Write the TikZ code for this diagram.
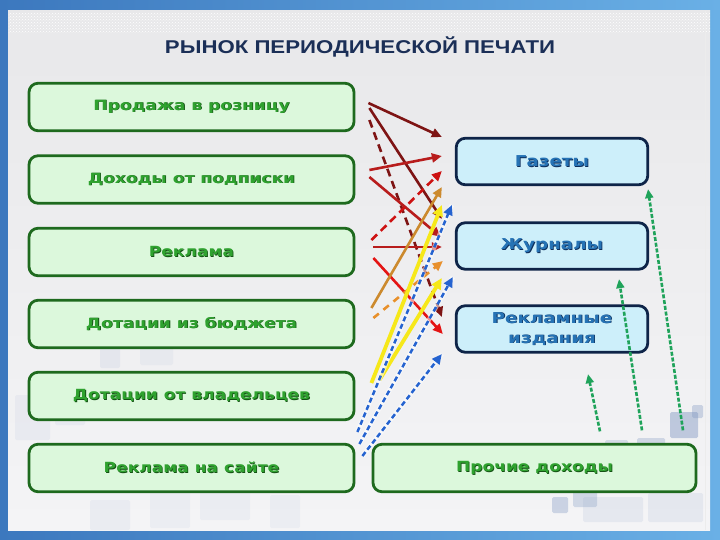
\documentclass[tikz,border=0pt]{standalone}
\usepackage{fontspec}
\setmainfont{Liberation Sans}
\newfontfamily\titlefont[FakeStretch=1.2]{Liberation Sans}
\newfontfamily\boxfont[FakeStretch=1.22]{DejaVu Sans}
\usetikzlibrary{arrows.meta,calc,patterns}
\definecolor{frameA}{HTML}{3C78BE}
\definecolor{frameB}{HTML}{6AB0E6}
\definecolor{panelA}{HTML}{E8E8EA}
\definecolor{panelB}{HTML}{F4F4F6}
\definecolor{titlec}{HTML}{1B2F57}
\definecolor{gfill}{HTML}{DCF8DC}
\definecolor{gline}{HTML}{1E6A1E}
\definecolor{gtext}{HTML}{2FA22F}
\definecolor{gshade}{HTML}{145214}
\definecolor{bfill}{HTML}{CDEFFA}
\definecolor{bline}{HTML}{0E2448}
\definecolor{btext}{HTML}{2673B5}
\definecolor{bshade}{HTML}{0E2E5A}
\definecolor{cmaroon}{HTML}{7E1414}
\definecolor{cred}{HTML}{B81C1C}
\definecolor{cbright}{HTML}{E41414}
\definecolor{corange}{HTML}{CC8A2E}
\definecolor{corange2}{HTML}{E8902C}
\definecolor{cyellow}{HTML}{F6E81A}
\definecolor{cblue}{HTML}{2563D0}
\definecolor{cgreen}{HTML}{1FA35A}
\definecolor{sq}{HTML}{7F97C2}
\newcommand\shtxt[3]{\rlap{\kern0.8pt\raisebox{-0.8pt}{\textcolor{#1}{#3}}}\textcolor{#2}{#3}}
\begin{document}
\begin{tikzpicture}[x=1pt,y=-1pt,
  lbox/.style={draw=gline, fill=gfill, line width=2.8pt, rounded corners=9pt,
    minimum width=325pt, minimum height=47.5pt, inner sep=0pt,
    font=\boxfont\bfseries\fontsize{14}{16}\selectfont, align=center},
  rbox/.style={draw=bline, fill=bfill, line width=2.8pt, rounded corners=9pt,
    minimum width=191.5pt, minimum height=46.5pt, inner sep=0pt,
    font=\boxfont\bfseries\fontsize{15}{20}\selectfont, align=center},
  arr/.style={-{Triangle[length=10pt,width=9pt]}, line width=2.6pt},
  darr/.style={arr, dash pattern=on 8pt off 5pt},
  yarr/.style={-{Triangle[length=11pt,width=10pt]}, line width=3.8pt, draw=cyellow},
  barr/.style={-{Triangle[length=10pt,width=9pt]}, line width=2.5pt, draw=cblue,
    dash pattern=on 5pt off 3pt,
    preaction={draw=white, line width=4.5pt, opacity=.55, solid, -}},
  garr/.style={-{Triangle[length=9pt,width=8pt]}, line width=2.6pt, draw=cgreen,
    dash pattern=on 4pt off 1.8pt},
  sqr/.style={fill=sq, rounded corners=1.5pt}
]
\useasboundingbox (0,0) rectangle (720,540);
% frame and panel
\shade[left color=frameA, right color=frameB] (0,0) rectangle (720,540);
\shade[top color=panelA, bottom color=panelB] (8,11) rectangle (710,530);
\fill[pattern=crosshatch dots, pattern color=white] (8,13) rectangle (710,33);
\draw[white!85!gray, line width=1pt] (705,11) -- (705,530);
% decorative squares
\foreach \a/\b/\c/\d/\o in {552/497/568/513/.35, 573/482/597/507/.3, 605/440/628/465/.25,
  637/438/665/472/.3, 670/412/698/438/.45, 692/405/703/418/.35, 583/497/643/522/.12,
  648/493/703/522/.12, 100/348/120/368/.1, 140/348/173/365/.08, 15/395/50/440/.08,
  55/400/85/425/.08, 90/500/130/530/.08, 150/490/190/528/.07, 200/480/250/520/.07,
  270/495/300/528/.07}
  \fill[sqr, fill opacity=\o] (\a,\b) rectangle (\c,\d);
% title
\node[font=\titlefont\bfseries\fontsize{18.5}{20}\selectfont, text=titlec] (T) at (360,47) {РЫНОК ПЕРИОДИЧЕСКОЙ ПЕЧАТИ};
% left boxes
\node[lbox] (L1) at (191.5,107) {\shtxt{gshade}{gtext}{Продажа в розницу}};
\node[lbox] (L2) at (191.5,179.5) {\shtxt{gshade}{gtext}{Доходы от подписки}};
\node[lbox] (L3) at (191.5,252) {\shtxt{gshade}{gtext}{Реклама}};
\node[lbox] (L4) at (191.5,324) {\shtxt{gshade}{gtext}{Дотации из бюджета}};
\node[lbox] (L5) at (191.5,396) {\shtxt{gshade}{gtext}{Дотации от владельцев}};
\node[lbox] (L6) at (191.5,468) {\shtxt{gshade}{gtext}{Реклама на сайте}};
% right boxes
\node[rbox] (G) at (552,161.5) {\shtxt{bshade}{btext}{Газеты}};
\node[rbox] (J) at (552,246) {\shtxt{bshade}{btext}{Журналы}};
\node[rbox] (R) at (552,329) {\shtxt{bshade}{btext}{Рекламные}\\\shtxt{bshade}{btext}{издания}};
\node[lbox, minimum width=323pt] (P) at (534.5,468) {\shtxt{gshade}{gtext}{Прочие доходы}};
% arrows
\draw[arr, cmaroon] ($(L1.east)+(13,-4)$) -- ($(G.west)+(-13,-24.5)$);
\draw[arr, cmaroon] ($(L1.east)+(14,1)$) -- ($(J.west)+(-13,-27)$);
\draw[darr, cmaroon] ($(L1.east)+(14,13)$) -- ($(R.west)+(-13,-12)$);
\draw[arr, cred] ($(L2.east)+(14,-9.5)$) -- ($(G.west)+(-13,-5.5)$);
\draw[arr, cred] ($(L2.east)+(14,-2.5)$) -- ($(J.west)+(-14,-9)$);
\draw[darr, cbright!90!black] ($(L3.east)+(16,-12)$) -- ($(G.west)+(-13,9.5)$);
\draw[arr, cred] ($(L3.east)+(18,-5)$) -- ($(J.west)+(-13,1)$);
\draw[arr, cbright] ($(L3.east)+(18,6)$) -- ($(R.west)+(-12,5)$);
\draw[arr, corange] ($(L4.east)+(16,-16)$) -- ($(G.west)+(-13,25.5)$);
\draw[arr, corange2, dash pattern=on 7pt off 6pt] ($(L4.east)+(18,-6)$) -- ($(J.west)+(-12,15)$);
\draw[yarr] ($(L5.east)+(16,-13)$) -- ($(G.west)+(-13,43.5)$);
\draw[yarr] ($(L5.east)+(24,-16)$) -- ($(J.west)+(-13,32)$);
\draw[barr] ($(L6.east)+(2,-36)$) -- ($(G.west)+(-3,43.5)$);
\draw[barr] ($(L6.east)+(4,-24)$) -- ($(J.west)+(-2,31)$);
\draw[barr] ($(L6.east)+(7,-12)$) -- ($(R.west)+(-13,25)$);
\draw[garr] ($(P.north)+(65.5,-11.5)$) -- ($(R.south)+(36,20.5)$);
\draw[garr] ($(P.north)+(107.5,-12.5)$) -- ($(J.south)+(67,8.5)$);
\draw[garr] ($(P.north)+(148.5,-12.5)$) -- ($(G.south)+(96,3)$);
\end{tikzpicture}
\end{document}
